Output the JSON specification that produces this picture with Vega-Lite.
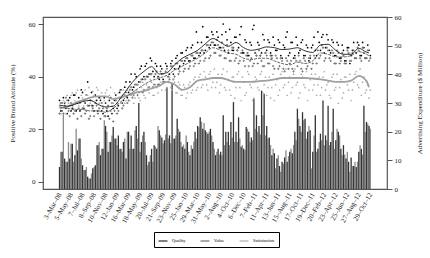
{
"$schema":"https://vega.github.io/schema/vega-lite/v6.json",
"width":344,"height":172,
"autosize":{"type":"none"},
"padding":{"left":43,"top":17,"right":43,"bottom":69},
"config":{"font":"Liberation Serif","view":{"stroke":"#555","strokeWidth":1.2},
"axis":{"labelFont":"Liberation Serif","titleFont":"Liberation Serif","labelColor":"#222","titleColor":"#222","titleFontWeight":"normal","grid":false,"labelFontSize":7,"titleFontSize":7,"tickColor":"#555","tickWidth":1,"domain":false},
"axisX":{"labelOverlap":false,"labelBound":false,"labelFlush":false,"tickCount":60},
"legend":{"orient":"none","legendX":111,"legendY":215,"direction":"horizontal","strokeColor":"#000","padding":4,"labelFontSize":4.5,"labelFont":"Liberation Serif","symbolType":"stroke","symbolSize":80,"symbolStrokeWidth":1,"columnPadding":12}},
"datasets":{
"m":[
{"d":"2008-03-03","a":7.7,"b":13,"q":31,"v":26,"s":29,"q2":27,"v2":30,"s2":26},
{"d":"2008-03-17","a":13,"b":26,"q":27,"v":30,"s":27,"q2":32,"v2":26,"s2":31},
{"d":"2008-03-31","a":10.6,"b":9.5,"q":30,"v":29,"s":30.5,"q2":28,"v2":32,"s2":26},
{"d":"2008-04-14","a":9.5,"b":16.4,"q":26,"v":31,"s":33,"q2":31,"v2":27,"s2":30},
{"d":"2008-04-28","a":10.6,"b":15.8,"q":32,"v":25,"s":29,"q2":27,"v2":30,"s2":33},
{"d":"2008-05-12","a":15.8,"b":9.5,"q":28,"v":29,"s":34,"q2":33,"v2":26,"s2":28},
{"d":"2008-05-26","a":11.8,"b":21,"q":33,"v":27,"s":31,"q2":27,"v2":30,"s2":34},
{"d":"2008-06-09","a":13.5,"b":17.6,"q":30,"v":24,"s":35,"q2":32,"v2":28,"s2":29},
{"d":"2008-06-23","a":17.6,"b":10.6,"q":27,"v":30,"s":30,"q2":35,"v2":25,"s2":33},
{"d":"2008-07-07","a":8.3,"b":6.6,"q":34,"v":28,"s":32,"q2":28,"v2":31,"s2":29},
{"d":"2008-07-21","a":6.6,"b":7.7,"q":30,"v":26,"s":35,"q2":33,"v2":27,"s2":33},
{"d":"2008-08-04","a":4.3,"b":3.7,"q":38,"v":29,"s":33,"q2":29,"v2":24,"s2":36},
{"d":"2008-08-18","a":3.7,"b":5.4,"q":31,"v":25,"s":30,"q2":34,"v2":29,"s2":31},
{"d":"2008-09-01","a":7.2,"b":7.7,"q":29,"v":28,"s":34.5,"q2":27,"v2":25,"s2":33},
{"d":"2008-09-15","a":8.3,"b":15.3,"q":33,"v":30,"s":31,"q2":31,"v2":29,"s2":36},
{"d":"2008-09-29","a":15.3,"b":16.4,"q":27,"v":26,"s":35,"q2":32,"v2":28,"s2":30},
{"d":"2008-10-13","a":11.8,"b":14,"q":31,"v":24,"s":32,"q2":27,"v2":30,"s2":34},
{"d":"2008-10-27","a":14,"b":24,"q":26,"v":28,"s":29,"q2":32,"v2":25,"s2":31},
{"d":"2008-11-10","a":22,"b":20,"q":30,"v":25,"s":34,"q2":27,"v2":28,"s2":35},
{"d":"2008-11-24","a":13,"b":16.4,"q":25,"v":29,"s":31,"q2":31,"v2":24,"s2":33},
{"d":"2008-12-08","a":16.4,"b":18.7,"q":32,"v":27,"s":36,"q2":26,"v2":30,"s2":29},
{"d":"2008-12-22","a":21.6,"b":17.6,"q":28,"v":23,"s":30,"q2":31,"v2":27,"s2":34},
{"d":"2009-01-05","a":17.6,"b":15.3,"q":33,"v":31,"s":32,"q2":28,"v2":26,"s2":30},
{"d":"2009-01-19","a":18.7,"b":14,"q":29,"v":27,"s":34,"q2":34,"v2":32,"s2":35},
{"d":"2009-02-02","a":14,"b":13,"q":35,"v":32,"s":30,"q2":30,"v2":28,"s2":33},
{"d":"2009-02-16","a":16.4,"b":17.6,"q":31,"v":29,"s":35,"q2":36,"v2":33,"s2":30},
{"d":"2009-03-02","a":10.6,"b":20,"q":38,"v":34,"s":31,"q2":32,"v2":30,"s2":35},
{"d":"2009-03-16","a":20,"b":14,"q":34,"v":31,"s":36,"q2":38,"v2":35,"s2":31},
{"d":"2009-03-30","a":18.7,"b":14,"q":41,"v":36,"s":33,"q2":35,"v2":32,"s2":36},
{"d":"2009-04-13","a":14,"b":20.5,"q":36,"v":33,"s":30,"q2":41,"v2":37,"s2":32},
{"d":"2009-04-27","a":22,"b":17.6,"q":40,"v":37,"s":35,"q2":37,"v2":33,"s2":37},
{"d":"2009-05-11","a":30,"b":13,"q":38,"v":34,"s":32,"q2":43,"v2":38,"s2":31},
{"d":"2009-05-25","a":16.4,"b":18.7,"q":44,"v":39,"s":36,"q2":39,"v2":34,"s2":38},
{"d":"2009-06-08","a":20,"b":16.4,"q":40,"v":35,"s":33,"q2":44,"v2":39,"s2":32},
{"d":"2009-06-22","a":11.8,"b":8.3,"q":45,"v":40,"s":37,"q2":40,"v2":35,"s2":36},
{"d":"2009-07-06","a":9.5,"b":11.8,"q":41,"v":36,"s":34,"q2":47,"v2":41,"s2":39},
{"d":"2009-07-20","a":14,"b":9.5,"q":46,"v":41,"s":38,"q2":42,"v2":36,"s2":33},
{"d":"2009-08-03","a":15.3,"b":14.8,"q":40,"v":37,"s":33,"q2":45,"v2":41,"s2":37},
{"d":"2009-08-17","a":14,"b":22,"q":44,"v":42,"s":36,"q2":40,"v2":37,"s2":34},
{"d":"2009-08-31","a":20.5,"b":18.7,"q":39,"v":37,"s":40,"q2":44,"v2":42,"s2":38},
{"d":"2009-09-14","a":18,"b":16,"q":43,"v":41,"s":35,"q2":39,"v2":38,"s2":41},
{"d":"2009-09-28","a":17,"b":19,"q":38,"v":38,"s":38,"q2":45,"v2":42,"s2":35},
{"d":"2009-10-12","a":35.5,"b":17.6,"q":44,"v":43,"s":36,"q2":40,"v2":38,"s2":40},
{"d":"2009-10-26","a":18.7,"b":16,"q":41,"v":39,"s":40,"q2":45,"v2":44,"s2":36},
{"d":"2009-11-09","a":37,"b":17.6,"q":46,"v":44,"s":35,"q2":41,"v2":39,"s2":39},
{"d":"2009-11-23","a":17.6,"b":18.7,"q":43,"v":40,"s":38,"q2":47,"v2":45,"s2":34},
{"d":"2009-12-07","a":24.5,"b":21,"q":48,"v":45,"s":34,"q2":43,"v2":41,"s2":38},
{"d":"2009-12-21","a":20,"b":16.4,"q":44,"v":42,"s":37,"q2":49,"v2":46,"s2":33},
{"d":"2010-01-04","a":14.7,"b":15.5,"q":49,"v":46,"s":33,"q2":45,"v2":42,"s2":37},
{"d":"2010-01-18","a":14,"b":18.7,"q":46,"v":43,"s":36,"q2":50,"v2":47,"s2":32},
{"d":"2010-02-01","a":16.4,"b":13,"q":51,"v":47,"s":34,"q2":46,"v2":43,"s2":37},
{"d":"2010-02-15","a":11.8,"b":15.3,"q":46,"v":44,"s":38,"q2":51,"v2":48,"s2":34},
{"d":"2010-03-01","a":14,"b":16.5,"q":52,"v":48,"s":35,"q2":47,"v2":44,"s2":39},
{"d":"2010-03-15","a":20,"b":17.6,"q":47,"v":45,"s":40,"q2":57,"v2":49,"s2":35},
{"d":"2010-03-29","a":22,"b":21.5,"q":53,"v":49,"s":36,"q2":48,"v2":45,"s2":40},
{"d":"2010-04-12","a":25,"b":23.5,"q":49,"v":46,"s":41,"q2":53,"v2":50,"s2":36},
{"d":"2010-04-26","a":21,"b":23,"q":59,"v":50,"s":37,"q2":49,"v2":46,"s2":42},
{"d":"2010-05-10","a":20.5,"b":19.9,"q":50,"v":47,"s":40,"q2":55,"v2":52,"s2":37},
{"d":"2010-05-24","a":19.3,"b":20,"q":55,"v":52,"s":35,"q2":51,"v2":47,"s2":41},
{"d":"2010-06-07","a":21,"b":18.7,"q":52,"v":48,"s":42,"q2":57,"v2":53,"s2":36},
{"d":"2010-06-21","a":16.4,"b":14,"q":56,"v":53,"s":38,"q2":52,"v2":49,"s2":43},
{"d":"2010-07-05","a":11.8,"b":13,"q":52,"v":49,"s":36,"q2":57,"v2":54,"s2":38},
{"d":"2010-07-19","a":14,"b":12,"q":55,"v":52,"s":41,"q2":51,"v2":48,"s2":34},
{"d":"2010-08-02","a":13,"b":11.8,"q":51,"v":48,"s":37,"q2":56,"v2":53,"s2":41},
{"d":"2010-08-16","a":25.7,"b":15.3,"q":60,"v":51,"s":43,"q2":50,"v2":47,"s2":36},
{"d":"2010-08-30","a":20,"b":16.4,"q":57,"v":47,"s":35,"q2":54,"v2":52,"s2":42},
{"d":"2010-09-13","a":20,"b":15.3,"q":49,"v":50,"s":39,"q2":58,"v2":46,"s2":35},
{"d":"2010-09-27","a":23.4,"b":18,"q":53,"v":46,"s":33,"q2":50,"v2":51,"s2":40},
{"d":"2010-10-11","a":30.3,"b":16.4,"q":50,"v":51,"s":40,"q2":55,"v2":46,"s2":32},
{"d":"2010-10-25","a":20,"b":16.4,"q":55,"v":47,"s":36,"q2":50,"v2":50,"s2":41},
{"d":"2010-11-08","a":25,"b":17.6,"q":51,"v":45,"s":42,"q2":56,"v2":46,"s2":36},
{"d":"2010-11-22","a":14.7,"b":15.3,"q":59,"v":49,"s":31,"q2":49,"v2":50,"s2":40},
{"d":"2010-12-06","a":14,"b":13.5,"q":49,"v":46,"s":38,"q2":54,"v2":44,"s2":33},
{"d":"2010-12-20","a":21.6,"b":21,"q":53,"v":48,"s":34,"q2":48,"v2":49,"s2":42},
{"d":"2011-01-03","a":20,"b":16.4,"q":48,"v":44,"s":41,"q2":53,"v2":46,"s2":37},
{"d":"2011-01-17","a":18,"b":17,"q":52,"v":47,"s":36,"q2":58,"v2":44,"s2":31},
{"d":"2011-01-31","a":31.4,"b":21,"q":59.5,"v":45,"s":32,"q2":49,"v2":49,"s2":40},
{"d":"2011-02-14","a":25.7,"b":20,"q":48,"v":48,"s":39,"q2":53,"v2":45,"s2":36},
{"d":"2011-02-28","a":22,"b":19,"q":52,"v":50,"s":35,"q2":48,"v2":48,"s2":41},
{"d":"2011-03-14","a":34.3,"b":25.7,"q":49,"v":46,"s":42,"q2":56,"v2":44,"s2":34},
{"d":"2011-03-28","a":33.2,"b":18.7,"q":54,"v":44,"s":37,"q2":49,"v2":49,"s2":40},
{"d":"2011-04-11","a":22,"b":17.6,"q":50,"v":48,"s":33,"q2":54,"v2":45,"s2":36},
{"d":"2011-04-25","a":18,"b":15.3,"q":53,"v":45,"s":40,"q2":49,"v2":48,"s2":32},
{"d":"2011-05-09","a":11.8,"b":14,"q":48,"v":47,"s":36,"q2":55,"v2":44,"s2":41},
{"d":"2011-05-23","a":12.5,"b":7.2,"q":52,"v":43,"s":31,"q2":50,"v2":48,"s2":37},
{"d":"2011-06-06","a":10.6,"b":11.8,"q":50,"v":47,"s":39,"q2":54,"v2":43,"s2":33},
{"d":"2011-06-20","a":8,"b":6,"q":53,"v":44,"s":35,"q2":48,"v2":47,"s2":41},
{"d":"2011-07-04","a":9.5,"b":8.9,"q":47,"v":46,"s":42,"q2":52,"v2":43,"s2":36},
{"d":"2011-07-18","a":11,"b":13.5,"q":51,"v":42,"s":37,"q2":55,"v2":47,"s2":43},
{"d":"2011-08-01","a":9.5,"b":11.5,"q":57,"v":46,"s":33,"q2":48,"v2":43,"s2":38},
{"d":"2011-08-15","a":13,"b":14,"q":49,"v":45,"s":40,"q2":53,"v2":46,"s2":34},
{"d":"2011-08-29","a":12.5,"b":15.3,"q":53,"v":43,"s":36,"q2":47,"v2":42,"s2":41},
{"d":"2011-09-12","a":20,"b":17,"q":48,"v":47,"s":43,"q2":55,"v2":46,"s2":37},
{"d":"2011-09-26","a":28,"b":24.5,"q":52,"v":44,"s":38,"q2":49,"v2":48,"s2":32},
{"d":"2011-10-10","a":22,"b":20,"q":50,"v":46,"s":34,"q2":53,"v2":43,"s2":41},
{"d":"2011-10-24","a":26.8,"b":24,"q":54,"v":42,"s":40,"q2":48,"v2":47,"s2":37},
{"d":"2011-11-07","a":24.5,"b":17.6,"q":48,"v":46,"s":36,"q2":52,"v2":43,"s2":42},
{"d":"2011-11-21","a":20,"b":22,"q":51,"v":44,"s":31,"q2":46,"v2":47,"s2":35},
{"d":"2011-12-05","a":20.5,"b":7.2,"q":47,"v":48,"s":39,"q2":51,"v2":43,"s2":41},
{"d":"2011-12-19","a":13,"b":18.7,"q":52,"v":45,"s":35,"q2":55,"v2":48,"s2":37},
{"d":"2012-01-02","a":25.7,"b":13,"q":50,"v":47,"s":41,"q2":48,"v2":45,"s2":33},
{"d":"2012-01-16","a":14,"b":16.4,"q":57,"v":50,"s":37,"q2":53,"v2":47,"s2":40},
{"d":"2012-01-30","a":19.3,"b":17,"q":50,"v":48,"s":33,"q2":55,"v2":52,"s2":36},
{"d":"2012-02-13","a":30.9,"b":15.3,"q":56,"v":51,"s":40,"q2":49,"v2":46,"s2":42},
{"d":"2012-02-27","a":18.7,"b":17,"q":51,"v":47,"s":35,"q2":56,"v2":51,"s2":37},
{"d":"2012-03-12","a":29,"b":15.3,"q":54,"v":50,"s":38,"q2":50,"v2":47,"s2":33},
{"d":"2012-03-26","a":16.4,"b":20,"q":49,"v":46,"s":32,"q2":54,"v2":50,"s2":40},
{"d":"2012-04-09","a":28,"b":14,"q":53,"v":49,"s":41,"q2":48,"v2":45,"s2":35},
{"d":"2012-04-23","a":17,"b":21,"q":48,"v":45,"s":36,"q2":53,"v2":50,"s2":41},
{"d":"2012-05-07","a":20,"b":18.7,"q":52,"v":49,"s":30,"q2":47,"v2":45,"s2":36},
{"d":"2012-05-21","a":14,"b":11.8,"q":47,"v":46,"s":39,"q2":52,"v2":49,"s2":32},
{"d":"2012-06-04","a":15.3,"b":12,"q":50,"v":48,"s":34,"q2":46,"v2":45,"s2":40},
{"d":"2012-06-18","a":10.6,"b":13,"q":46,"v":45,"s":40,"q2":51,"v2":50,"s2":37},
{"d":"2012-07-02","a":9.5,"b":6,"q":51,"v":49,"s":35,"q2":45,"v2":46,"s2":41},
{"d":"2012-07-16","a":11,"b":8,"q":48,"v":46,"s":31,"q2":50,"v2":49,"s2":35},
{"d":"2012-07-30","a":8,"b":9.5,"q":53,"v":50,"s":38,"q2":47,"v2":47,"s2":41},
{"d":"2012-08-13","a":7.7,"b":9.5,"q":49,"v":47,"s":42,"q2":53,"v2":51,"s2":37},
{"d":"2012-08-27","a":13,"b":15.3,"q":52,"v":50,"s":36,"q2":48,"v2":47,"s2":43},
{"d":"2012-09-10","a":14,"b":12,"q":48,"v":46,"s":33,"q2":53,"v2":51,"s2":38},
{"d":"2012-09-24","a":29,"b":20,"q":51,"v":49,"s":40,"q2":47,"v2":47,"s2":34},
{"d":"2012-10-08","a":23.4,"b":22.8,"q":47,"v":47,"s":35,"q2":52,"v2":50,"s2":37},
{"d":"2012-10-22","a":22,"b":21,"q":50,"v":46,"s":32,"q2":48,"v2":47,"s2":35}
],
"sm":[
{"d":"2008-03-03","Quality":29.2,"Value":28.5,"Satisfaction":28},
{"d":"2008-04-14","Quality":28.8,"Value":28,"Satisfaction":28.5},
{"d":"2008-05-26","Quality":29.5,"Value":27.5,"Satisfaction":30},
{"d":"2008-07-07","Quality":30.5,"Value":27.5,"Satisfaction":31},
{"d":"2008-08-18","Quality":31,"Value":27,"Satisfaction":32},
{"d":"2008-09-29","Quality":29.5,"Value":27,"Satisfaction":32.5},
{"d":"2008-11-10","Quality":28.5,"Value":26.5,"Satisfaction":32.5},
{"d":"2008-12-22","Quality":28.8,"Value":28,"Satisfaction":31.5},
{"d":"2009-02-02","Quality":32,"Value":30.5,"Satisfaction":32},
{"d":"2009-03-16","Quality":36,"Value":33,"Satisfaction":33},
{"d":"2009-04-27","Quality":39.5,"Value":35,"Satisfaction":34},
{"d":"2009-06-08","Quality":42,"Value":37,"Satisfaction":34.5},
{"d":"2009-07-20","Quality":43.8,"Value":38.5,"Satisfaction":35.5},
{"d":"2009-08-31","Quality":41,"Value":39.5,"Satisfaction":36.5},
{"d":"2009-10-12","Quality":41.5,"Value":40.5,"Satisfaction":38},
{"d":"2009-11-23","Quality":44.5,"Value":42.5,"Satisfaction":37},
{"d":"2010-01-04","Quality":47,"Value":44,"Satisfaction":35},
{"d":"2010-02-15","Quality":48.5,"Value":45.5,"Satisfaction":36},
{"d":"2010-03-29","Quality":50,"Value":47,"Satisfaction":38.5},
{"d":"2010-05-10","Quality":52.5,"Value":49,"Satisfaction":39},
{"d":"2010-06-21","Quality":54.5,"Value":51,"Satisfaction":39.5},
{"d":"2010-08-02","Quality":53,"Value":50,"Satisfaction":39.5},
{"d":"2010-09-13","Quality":51.5,"Value":49,"Satisfaction":38.7},
{"d":"2010-10-25","Quality":53,"Value":48.5,"Satisfaction":38},
{"d":"2010-12-06","Quality":51,"Value":47,"Satisfaction":38},
{"d":"2011-01-17","Quality":50,"Value":46.5,"Satisfaction":38},
{"d":"2011-02-28","Quality":50.5,"Value":47,"Satisfaction":38.3},
{"d":"2011-04-11","Quality":51.3,"Value":47,"Satisfaction":38.5},
{"d":"2011-05-23","Quality":51,"Value":46,"Satisfaction":39},
{"d":"2011-07-04","Quality":50.3,"Value":45,"Satisfaction":39.5},
{"d":"2011-08-15","Quality":50.5,"Value":44.5,"Satisfaction":39.5},
{"d":"2011-09-26","Quality":51,"Value":45.5,"Satisfaction":39.5},
{"d":"2011-11-07","Quality":49.8,"Value":45,"Satisfaction":39.5},
{"d":"2011-12-19","Quality":49.2,"Value":46,"Satisfaction":39.3},
{"d":"2012-01-30","Quality":52,"Value":49,"Satisfaction":39},
{"d":"2012-03-12","Quality":52.3,"Value":48.5,"Satisfaction":38.5},
{"d":"2012-04-23","Quality":50,"Value":47.5,"Satisfaction":38},
{"d":"2012-06-04","Quality":48.5,"Value":47.5,"Satisfaction":38},
{"d":"2012-07-16","Quality":48.5,"Value":48,"Satisfaction":38.5},
{"d":"2012-08-27","Quality":50.8,"Value":49.5,"Satisfaction":40.3},
{"d":"2012-10-08","Quality":49.3,"Value":48.5,"Satisfaction":38.3},
{"d":"2012-10-22","Quality":49,"Value":48,"Satisfaction":36}
]},
"layer":[
{"data":{"name":"m"},
 "layer":[
 {"mark":{"type":"bar","width":1.3,"color":"#8a8a8a","xOffset":1.3},
  "encoding":{
   "x":{"field":"d","type":"temporal","scale":{"type":"utc","domain":[{"year":2007,"month":12,"date":31,"utc":true},{"year":2013,"month":1,"date":1,"utc":true}]},"axis":{"values":[
{"year":2008,"month":3,"date":3,"utc":true},{"year":2008,"month":5,"date":5,"utc":true},{"year":2008,"month":7,"date":7,"utc":true},{"year":2008,"month":9,"date":8,"utc":true},{"year":2008,"month":11,"date":10,"utc":true},{"year":2009,"month":1,"date":12,"utc":true},{"year":2009,"month":3,"date":16,"utc":true},{"year":2009,"month":5,"date":18,"utc":true},{"year":2009,"month":7,"date":20,"utc":true},{"year":2009,"month":9,"date":21,"utc":true},{"year":2009,"month":11,"date":23,"utc":true},{"year":2010,"month":1,"date":25,"utc":true},{"year":2010,"month":3,"date":29,"utc":true},{"year":2010,"month":5,"date":31,"utc":true},{"year":2010,"month":8,"date":2,"utc":true},{"year":2010,"month":10,"date":4,"utc":true},{"year":2010,"month":12,"date":6,"utc":true},{"year":2011,"month":2,"date":7,"utc":true},{"year":2011,"month":4,"date":11,"utc":true},{"year":2011,"month":6,"date":13,"utc":true},{"year":2011,"month":8,"date":15,"utc":true},{"year":2011,"month":10,"date":17,"utc":true},{"year":2011,"month":12,"date":19,"utc":true},{"year":2012,"month":2,"date":20,"utc":true},{"year":2012,"month":4,"date":23,"utc":true},{"year":2012,"month":6,"date":25,"utc":true},{"year":2012,"month":8,"date":27,"utc":true},{"year":2012,"month":10,"date":29,"utc":true}],
    "tickCount":60,"labelExpr":"utcFormat(datum.value, '%-d–%b–%y')","labelAngle":-60,"labelAlign":"right","labelBaseline":"middle","ticks":false,"domain":false,"labelPadding":4,"labelOverlap":false,"labelFlush":false,"labelBound":false,"title":null}},
   "y":{"field":"b","type":"quantitative","scale":{"domain":[0,60],"nice":false},"axis":{"orient":"right","values":[0,10,20,30,40,50,60],"title":"Advertising Expenditure ($ Million)","titleAngle":270,"titleBaseline":"top","titleColor":"#222","tickSize":5,"labelPadding":2,"titlePadding":14}}}},
 {"mark":{"type":"bar","width":1.3,"color":"#333333"},
  "encoding":{
   "x":{"field":"d","type":"temporal"},
   "y":{"field":"a","type":"quantitative","axis":{"orient":"right","values":[0,10,20,30,40,50,60],"title":"Advertising Expenditure ($ Million)","titleAngle":270,"titleBaseline":"top","titleColor":"#222","tickSize":5,"labelPadding":2,"titlePadding":14}}}}
 ]},
{"data":{"name":"m"},
 "layer":[
 {"mark":{"type":"point","filled":true,"size":3,"color":"#000","opacity":1},
  "encoding":{
   "x":{"field":"d","type":"temporal"},
   "y":{"field":"q","type":"quantitative","scale":{"domain":[-2.66,62.66],"nice":false,"zero":false},"axis":{"values":[0,10,20,30,40,50,60],"title":"Positive Brand Attitude (%)","titleColor":"#222","tickSize":5,"labelPadding":3,"titlePadding":13}}}},
 {"mark":{"type":"point","filled":true,"size":3,"color":"#000","opacity":1,"xOffset":1.3},
  "encoding":{"x":{"field":"d","type":"temporal"},"y":{"field":"q2","type":"quantitative","axis":{"title":"Positive Brand Attitude (%)","titleColor":"#222"}}}},
 {"mark":{"type":"point","filled":true,"size":5,"shape":"cross","color":"#777","opacity":1},
  "encoding":{"x":{"field":"d","type":"temporal"},"y":{"field":"v","type":"quantitative","axis":{"title":"Positive Brand Attitude (%)","titleColor":"#222"}}}},
 {"mark":{"type":"point","filled":true,"size":5,"shape":"cross","color":"#777","opacity":1,"xOffset":1.3},
  "encoding":{"x":{"field":"d","type":"temporal"},"y":{"field":"v2","type":"quantitative","axis":{"title":"Positive Brand Attitude (%)","titleColor":"#222"}}}},
 {"mark":{"type":"point","filled":true,"size":5,"shape":"triangle-up","color":"#aaa","opacity":1},
  "encoding":{"x":{"field":"d","type":"temporal"},"y":{"field":"s","type":"quantitative","axis":{"title":"Positive Brand Attitude (%)","titleColor":"#222"}}}},
 {"mark":{"type":"point","filled":true,"size":5,"shape":"triangle-up","color":"#aaa","opacity":1,"xOffset":1.3},
  "encoding":{"x":{"field":"d","type":"temporal"},"y":{"field":"s2","type":"quantitative","axis":{"title":"Positive Brand Attitude (%)","titleColor":"#222"}}}},
 {"data":{"name":"sm"},"mark":{"type":"line","strokeWidth":1.8,"interpolate":"monotone"},
  "encoding":{"x":{"field":"d","type":"temporal"},"y":{"field":"Satisfaction","type":"quantitative","axis":{"title":"Positive Brand Attitude (%)","titleColor":"#222"}},
   "color":{"datum":"Satisfaction","scale":{"domain":["Quality","Value","Satisfaction"],"range":["#000000","#555555","#a0a0a0"]},"legend":{"title":null}}}},
 {"data":{"name":"sm"},"mark":{"type":"line","strokeWidth":0.9,"strokeDash":[3,1],"interpolate":"monotone"},
  "encoding":{"x":{"field":"d","type":"temporal"},"y":{"field":"Value","type":"quantitative","axis":{"title":"Positive Brand Attitude (%)","titleColor":"#222"}},
   "color":{"datum":"Value"}}},
 {"data":{"name":"sm"},"mark":{"type":"line","strokeWidth":0.8,"interpolate":"monotone"},
  "encoding":{"x":{"field":"d","type":"temporal"},"y":{"field":"Quality","type":"quantitative","axis":{"title":"Positive Brand Attitude (%)","titleColor":"#222"}},
   "color":{"datum":"Quality"}}}
]}
],
"resolve":{"scale":{"y":"independent"}}
}
